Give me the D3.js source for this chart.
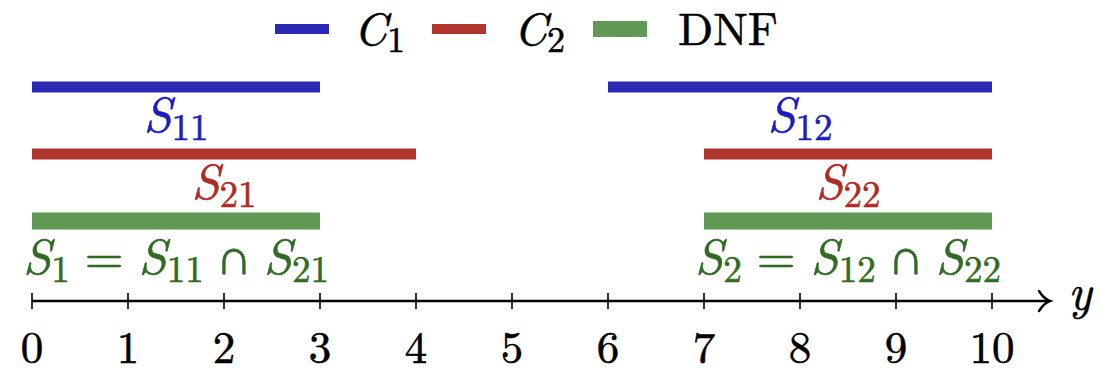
<!DOCTYPE html>
<html>
<head>
<meta charset="utf-8">
<script src="https://cdn.jsdelivr.net/npm/d3@7"></script>
<style>
  body { margin: 0; background: #fff; }
</style>
</head>
<body>
<div id="chart"></div>
<script>
const width = 1101;
const height = 374;

// data
const series = ["C1", "C2", "DNF"];
const seriesLegend = ["C_1", "C_2", "DNF"];
const intervalsC1 = [[0, 3], [6, 10]];
const intervalsC2 = [[0, 4], [7, 10]];
const intervalsDNF = [[0, 3], [7, 10]];
const labelsC1 = ["S_11", "S_12"];
const labelsC2 = ["S_21", "S_22"];
const labelsDNF = ["S_1 = S_11 ∩ S_21", "S_2 = S_12 ∩ S_22"];
const tickValues = [0, 1, 2, 3, 4, 5, 6, 7, 8, 9, 10];

const barColor = { C1: "#2a2ab4", C2: "#b0352f", DNF: "#609a54" };
const textColor = { C1: "#1c1cc0", C2: "#b02a24", DNF: "#2f6b22" };
const barWidth = { C1: 11, C2: 11, DNF: 17 };
const font = "Latin Modern Roman";

const rows = [
  { key: "C1", intervals: intervalsC1, labels: labelsC1 },
  { key: "C2", intervals: intervalsC2, labels: labelsC2 },
  { key: "DNF", intervals: intervalsDNF, labels: labelsDNF }
];

const svg = d3.select("#chart")
  .append("svg")
  .attr("width", width)
  .attr("height", height);

const x = d3.scaleLinear().domain([0, 10]).range([32, 992]);
const yRow = d3.scalePoint().domain(series).range([87, 221]);
const labelOffset = { C1: 45, C2: 45, DNF: 53 };

// write a math-ish label: "S_11" -> italic S with subscript
function mathText(sel, str, size) {
  const sub = Math.round(size * 0.74);
  const shift = Math.round(size * 0.15);
  let shifted = 0;
  let gap = 0;
  str.split(" ").forEach(tok => {
    if (tok.includes("_")) {
      const [base, s] = tok.split("_");
      sel.append("tspan").attr("font-style", "italic")
        .attr("dx", gap).attr("dy", -shifted).text(base);
      sel.append("tspan").attr("font-size", sub).attr("dy", shift).text(s);
      shifted = shift;
      gap = 0;
    } else {
      const g = (tok === "=" ? 0.3 : 0.24) * size;
      sel.append("tspan")
        .attr("dx", g)
        .attr("dy", -shifted)
        .text(tok);
      shifted = 0;
      gap = g;
    }
  });
}

// bars
rows.forEach(r => {
  const g = svg.append("g");
  g.selectAll("line")
    .data(r.intervals)
    .join("line")
    .attr("x1", d => x(d[0]))
    .attr("x2", d => x(d[1]))
    .attr("y1", yRow(r.key))
    .attr("y2", yRow(r.key))
    .attr("stroke", barColor[r.key])
    .attr("stroke-width", barWidth[r.key]);

  r.intervals.forEach((d, i) => {
    const t = g.append("text")
      .attr("x", x((d[0] + d[1]) / 2))
      .attr("y", yRow(r.key) + labelOffset[r.key])
      .attr("text-anchor", "middle")
      .attr("font-family", font)
      .attr("font-size", 50)
      .attr("fill", textColor[r.key])
      .attr("stroke", textColor[r.key])
      .attr("stroke-width", 0.6);
    mathText(t, r.labels[i], 50);
  });
});

// axis
const axisY = 301;
const axis = svg.append("g").attr("transform", `translate(0,${axisY})`);
axis.append("line")
  .attr("x1", x(0)).attr("x2", 1049)
  .attr("stroke", "#000").attr("stroke-width", 2.6);
axis.append("path")
  .attr("d", "M1039,-10 Q1044,-2 1050,0 Q1044,2 1039,10")
  .attr("fill", "none").attr("stroke", "#000").attr("stroke-width", 2.4)
  .attr("stroke-linecap", "round");
axis.selectAll("line.tick")
  .data(tickValues)
  .join("line")
  .attr("class", "tick")
  .attr("x1", d => x(d)).attr("x2", d => x(d))
  .attr("y1", -8).attr("y2", 8)
  .attr("stroke", "#000").attr("stroke-width", 1.6);
axis.selectAll("text.tl")
  .data(tickValues)
  .join("text")
  .attr("class", "tl")
  .attr("x", d => x(d))
  .attr("y", 62)
  .attr("text-anchor", "middle")
  .attr("font-family", font)
  .attr("font-size", 45)
  .attr("stroke", "#000").attr("stroke-width", 0.6)
  .text(d => d);
axis.append("text")
  .attr("x", 1080).attr("y", 8)
  .attr("text-anchor", "middle")
  .attr("font-family", font)
  .attr("font-size", 48)
  .attr("font-style", "italic")
  .attr("stroke", "#000").attr("stroke-width", 0.6)
  .text("y");

// legend
const legendX = [275, 432, 593];
const legendTextX = [354, 514, 678];
series.forEach((s, i) => {
  svg.append("line")
    .attr("x1", legendX[i]).attr("x2", legendX[i] + 54)
    .attr("y1", 29).attr("y2", 29)
    .attr("stroke", barColor[s])
    .attr("stroke-width", barWidth[s] - 1);
  const t = svg.append("text")
    .attr("x", legendTextX[i]).attr("y", 45)
    .attr("font-family", font)
    .attr("font-size", 46)
    .attr("fill", "#000")
    .attr("stroke", "#000").attr("stroke-width", 0.6);
  if (s === "DNF") t.text("DNF");
  else mathText(t, seriesLegend[i], 48);
});
</script>
</body>
</html>
